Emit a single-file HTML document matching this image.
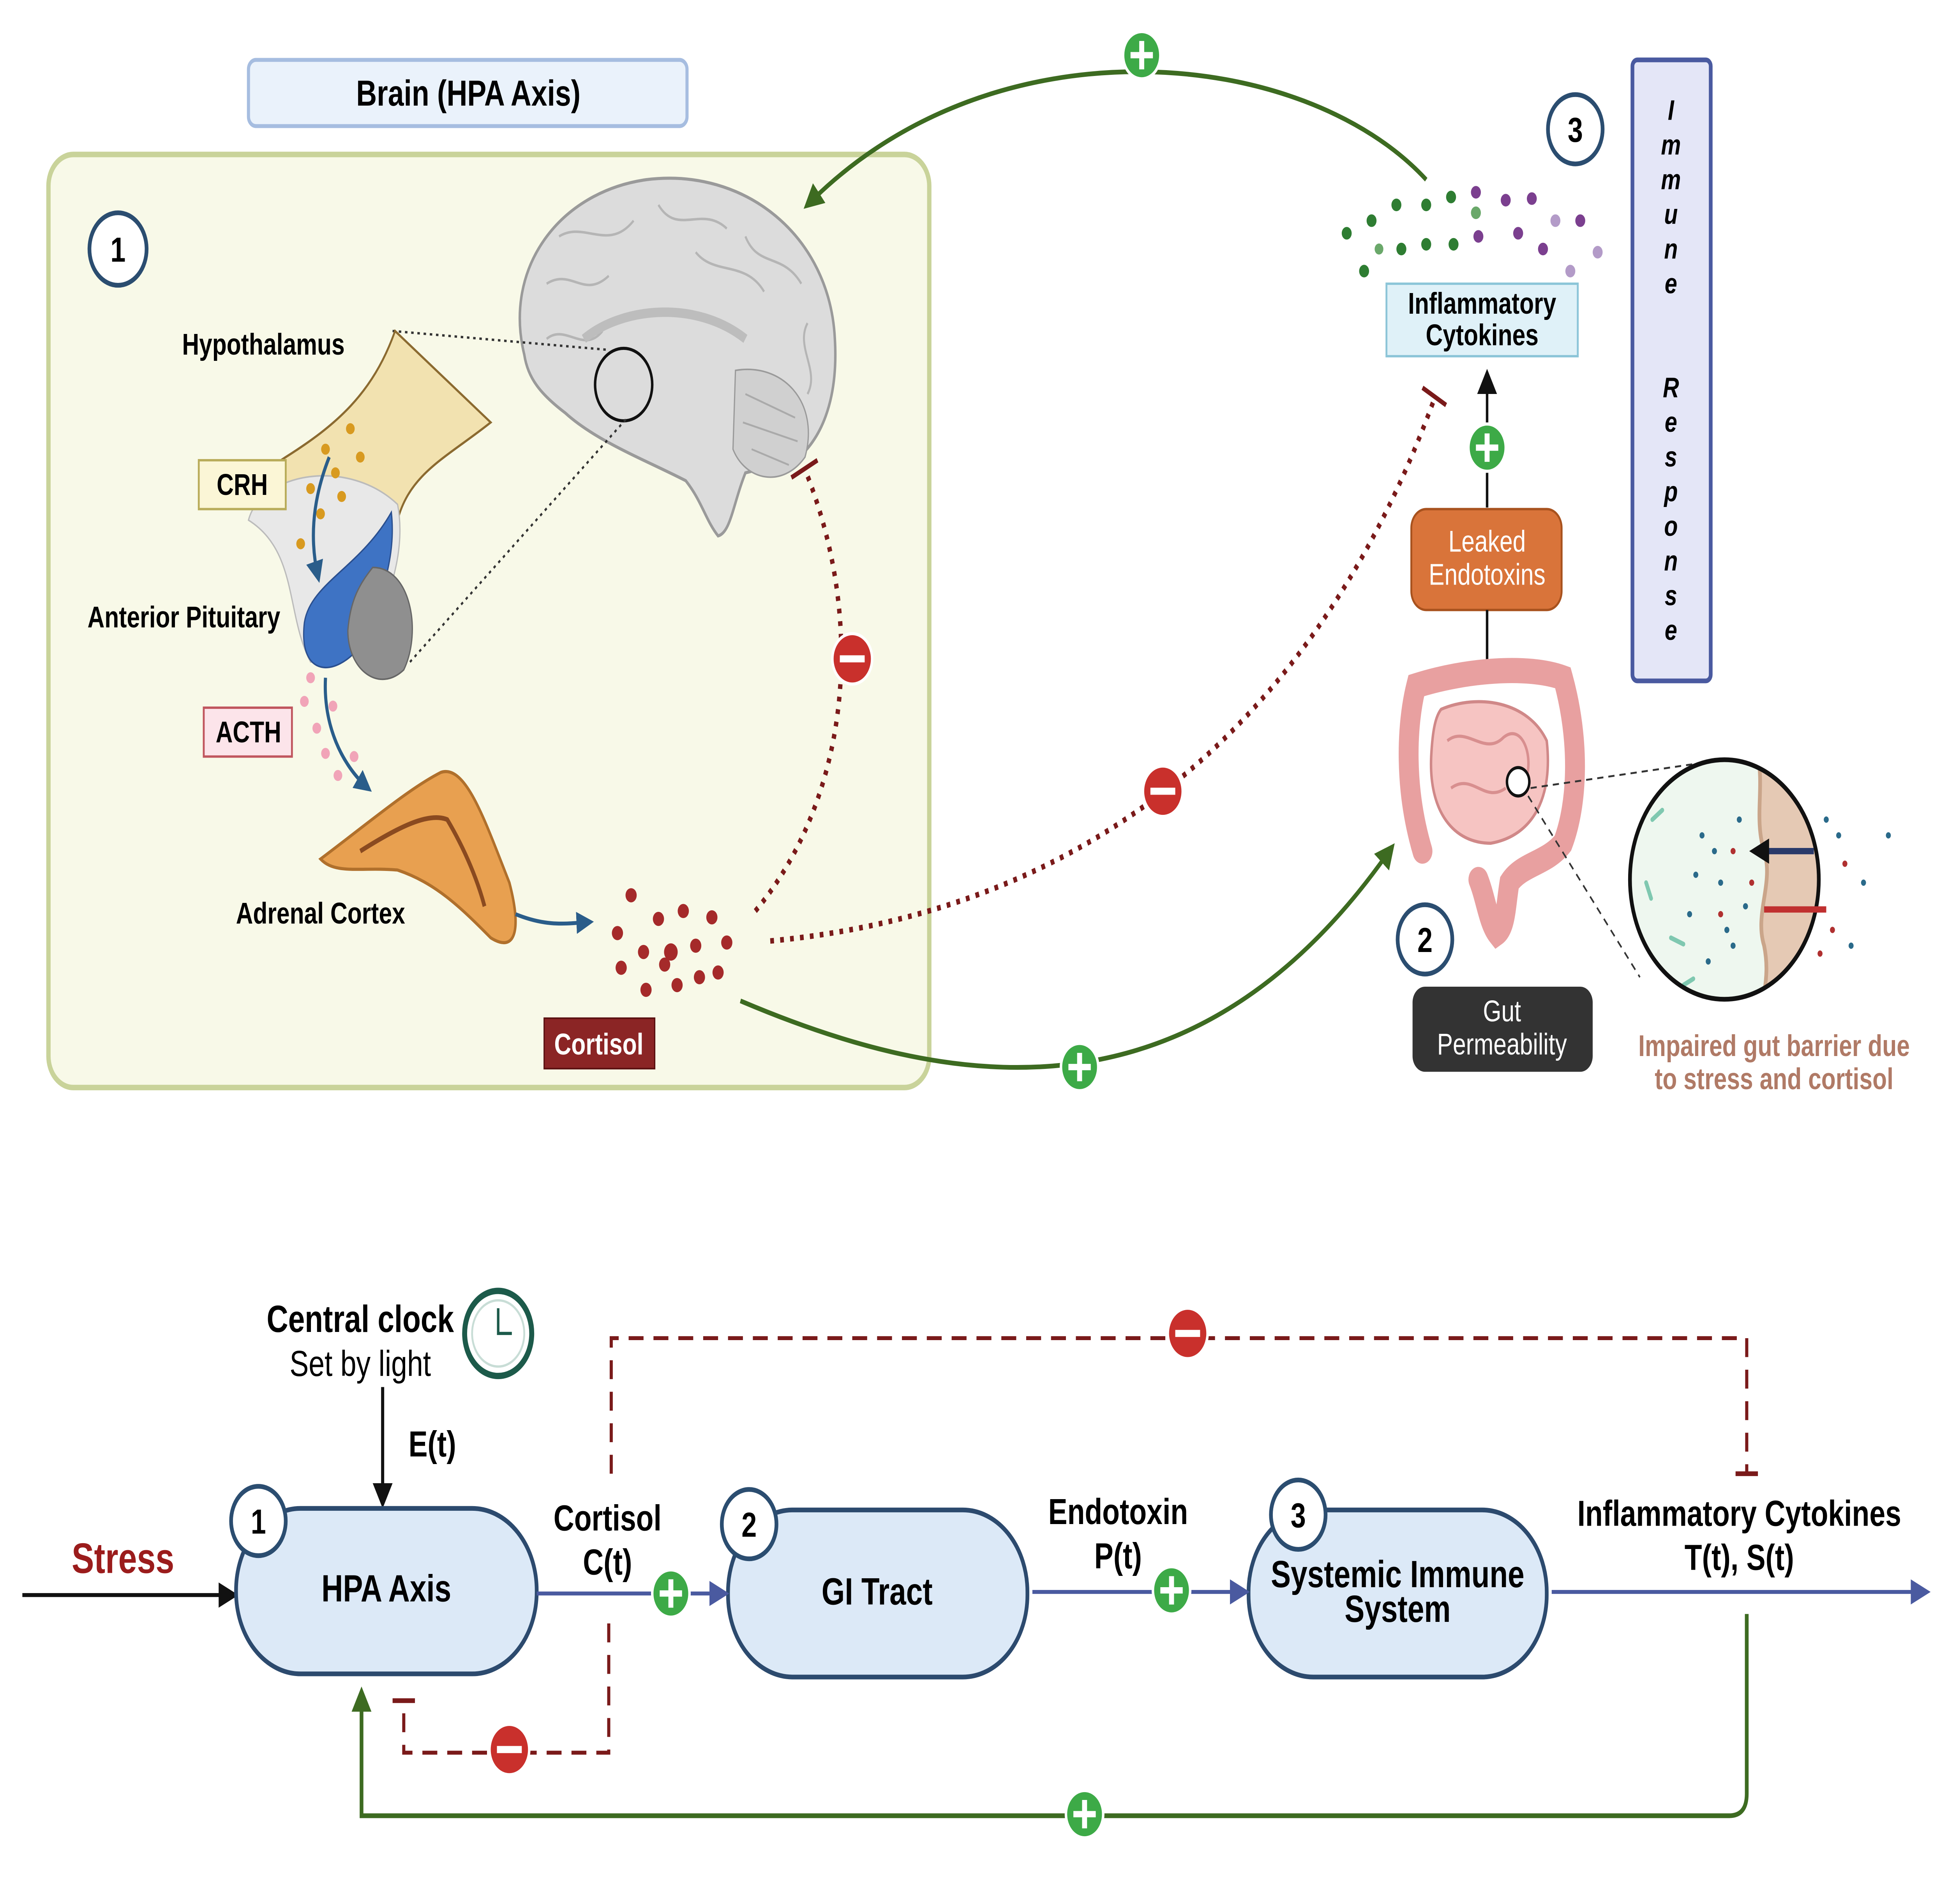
<!DOCTYPE html>
<html><head><meta charset="utf-8"><style>
html,body{margin:0;padding:0;background:#fff;overflow:hidden;width:100%;height:100%}
svg{display:block;width:100vw;height:100vh;position:absolute;left:0;top:0}
text{font-family:"Liberation Sans",Arial,sans-serif}
</style></head><body>
<svg viewBox="0 0 1568 1208" preserveAspectRatio="none" xmlns="http://www.w3.org/2000/svg">
<defs>
<marker id="agb" markerWidth="16" markerHeight="16" refX="12" refY="8" orient="auto" markerUnits="userSpaceOnUse"><path d="M0,0 L16,8 L0,16z" fill="#3d6b21"/></marker>
<marker id="ab" markerWidth="16" markerHeight="16" refX="12" refY="8" orient="auto" markerUnits="userSpaceOnUse"><path d="M0,0 L16,8 L0,16z" fill="#4a5aa0"/></marker>
<marker id="ak" markerWidth="16" markerHeight="16" refX="12" refY="8" orient="auto" markerUnits="userSpaceOnUse"><path d="M0,0 L16,8 L0,16z" fill="#111"/></marker>
<marker id="at" markerWidth="14" markerHeight="14" refX="10" refY="7" orient="auto" markerUnits="userSpaceOnUse"><path d="M0,0 L14,7 L0,14z" fill="#2a5d8a"/></marker>
<clipPath id="zc"><circle cx="1388" cy="558" r="75"/></clipPath>
<g id="plus"><circle r="15" fill="#3daa47" stroke="#fff" stroke-width="2"/><path d="M-9,0H9M0,-9V9" stroke="#fff" stroke-width="4"/></g>
<g id="minus"><circle r="16" fill="#c9302c" stroke="#fff" stroke-width="2"/><path d="M-10,0H10" stroke="#fff" stroke-width="4.5"/></g>
</defs>

<rect x="200" y="38" width="353" height="42" rx="6" fill="#eaf2fb" stroke="#a6bde0" stroke-width="2.5"/>
<text x="377" y="67" font-size="23" font-weight="bold" text-anchor="middle">Brain (HPA Axis)</text>
<rect x="39" y="98" width="709" height="592" rx="20" fill="#f8f9e8" stroke="#c9d39a" stroke-width="3.5"/>
<circle cx="95" cy="158" r="23" fill="#fff" stroke="#2b4d70" stroke-width="3"/>
<text x="95" y="166" font-size="22" font-weight="bold" text-anchor="middle">1</text>

<!-- brain -->
<path d="M422,225 C405,170 450,122 520,114 C600,106 668,150 672,215 C675,255 660,280 640,292 L600,300 C590,320 588,338 578,340 C568,330 565,318 552,305 C520,292 480,280 455,262 C435,250 425,240 422,225Z" fill="#dcdcdc" stroke="#9a9a9a" stroke-width="2"/>
<g fill="none" stroke="#b5b5b5" stroke-width="1.6">
<path d="M440,180 C460,170 470,190 490,175 M450,150 C470,140 490,160 510,140 M530,130 C545,150 565,130 585,145 M600,150 C610,170 630,160 645,180 M440,215 C455,205 470,225 485,210 M650,205 C640,220 660,235 650,250 M560,160 C575,175 600,165 615,185"/></g>
<path d="M470,215 C500,195 560,190 600,215" fill="none" stroke="#bdbdbd" stroke-width="6"/>
<path d="M592,235 C630,230 660,255 648,290 C630,310 600,305 590,285Z" fill="#d0d0d0" stroke="#9a9a9a"/>
<path d="M600,250 L640,265 M598,268 L642,280 M605,285 L635,295" stroke="#aaa" stroke-width="1.2"/>
<circle cx="502" cy="244" r="23" fill="none" stroke="#111" stroke-width="2"/>
<path d="M316,210 L490,222 M330,420 L505,265" stroke="#333" stroke-dasharray="2,3" stroke-width="1.5"/>
<path d="M318,210 L395,268 C360,290 330,300 320,330 L240,335 C200,330 190,310 230,290 C270,270 300,250 318,210Z" fill="#f2e2b0" stroke="#8b6a30" stroke-width="1.5"/>
<path d="M200,330 C210,300 280,290 320,320 C330,360 300,420 250,420 C230,390 240,350 200,330Z" fill="#e8e8e8" stroke="#bbb"/>
<path d="M315,325 C320,360 300,390 290,410 C270,430 240,430 245,395 C250,370 290,360 315,325Z" fill="#3e73c4" stroke="#2a4f8f"/>
<path d="M300,360 C330,360 340,400 325,425 C305,440 280,425 280,400 C282,380 290,370 300,360Z" fill="#8f8f8f" stroke="#666"/>
<g fill="#d89a20"><circle cx="262" cy="285" r="3.5"/><circle cx="282" cy="272" r="3.5"/><circle cx="290" cy="290" r="3.5"/><circle cx="270" cy="300" r="3.5"/><circle cx="250" cy="310" r="3.5"/><circle cx="258" cy="326" r="3.5"/><circle cx="242" cy="345" r="3.5"/><circle cx="275" cy="315" r="3.5"/></g>
<path d="M265,290 C250,320 250,345 256,366" fill="none" stroke="#2a5d8a" stroke-width="2.5" marker-end="url(#at)"/>
<g fill="#f1a4b8"><circle cx="250" cy="430" r="3.5"/><circle cx="245" cy="445" r="3.5"/><circle cx="255" cy="462" r="3.5"/><circle cx="262" cy="478" r="3.5"/><circle cx="272" cy="492" r="3.5"/><circle cx="285" cy="480" r="3.5"/><circle cx="268" cy="448" r="3.5"/></g>
<path d="M262,430 C260,460 275,485 296,500" fill="none" stroke="#2a5d8a" stroke-width="2.5" marker-end="url(#at)"/>
<path d="M258,545 C300,520 330,500 355,490 C375,485 390,520 410,560 C420,590 415,605 395,595 C370,575 350,560 320,552 C290,550 270,555 258,545Z" fill="#e8a050" stroke="#b0702c" stroke-width="2"/>
<path d="M290,540 C320,525 345,515 360,520 C375,540 385,560 390,575" fill="none" stroke="#8a4a20" stroke-width="3"/>
<path d="M415,580 C440,588 455,586 474,585" fill="none" stroke="#2a5d8a" stroke-width="2.5" marker-end="url(#at)"/>
<text x="212" y="225" font-size="19" font-weight="bold" text-anchor="middle">Hypothalamus</text>
<rect x="160" y="292" width="70" height="31" fill="#fbf6d6" stroke="#b9ac5a" stroke-width="1.5"/>
<text x="195" y="314" font-size="19" font-weight="bold" text-anchor="middle">CRH</text>
<text x="148" y="398" font-size="19" font-weight="bold" text-anchor="middle">Anterior Pituitary</text>
<rect x="164" y="449" width="71" height="31" fill="#fce4ea" stroke="#c0565e" stroke-width="1.5"/>
<text x="200" y="471" font-size="19" font-weight="bold" text-anchor="middle">ACTH</text>
<text x="258" y="586" font-size="19" font-weight="bold" text-anchor="middle">Adrenal Cortex</text>
<rect x="438" y="646" width="89" height="32" fill="#8b2525" stroke="#5a1010"/>
<text x="482" y="669" font-size="19" font-weight="bold" fill="#fff" text-anchor="middle">Cortisol</text>
<g fill="#a52a2a"><circle cx="508" cy="568" r="4.5"/><circle cx="530" cy="583" r="4.5"/><circle cx="550" cy="578" r="4.5"/><circle cx="573" cy="582" r="4.5"/><circle cx="497" cy="592" r="4.5"/><circle cx="518" cy="604" r="4.5"/><circle cx="540" cy="604" r="5.5"/><circle cx="560" cy="600" r="4.5"/><circle cx="585" cy="598" r="4.5"/><circle cx="500" cy="614" r="4.5"/><circle cx="535" cy="612" r="4.5"/><circle cx="563" cy="620" r="4.5"/><circle cx="578" cy="617" r="4.5"/><circle cx="520" cy="628" r="4.5"/><circle cx="545" cy="625" r="4.5"/></g>

<path d="M608,578 C680,510 700,400 648,298" fill="none" stroke="#7a1a1a" stroke-width="3.5" stroke-dasharray="3,5"/>
<path d="M637,303 L658,292" stroke="#7a1a1a" stroke-width="3"/>
<use href="#minus" x="686" y="418"/>
<path d="M620,597 C850,580 1050,480 1155,252" fill="none" stroke="#7a1a1a" stroke-width="3.5" stroke-dasharray="3,5"/>
<path d="M1145,246 L1164,257" stroke="#7a1a1a" stroke-width="3"/>
<use href="#minus" x="936" y="502"/>
<path d="M1148,114 C1050,30 800,10 650,130" fill="none" stroke="#3d6b21" stroke-width="3" marker-end="url(#agb)"/>
<use href="#plus" x="919" y="35"/>
<path d="M596,635 C760,690 960,720 1120,538" fill="none" stroke="#3d6b21" stroke-width="3" marker-end="url(#agb)"/>
<use href="#plus" x="869" y="677"/>

<g fill="#2e7d32"><circle cx="1084" cy="148" r="4"/><circle cx="1104" cy="140" r="4"/><circle cx="1124" cy="130" r="4"/><circle cx="1148" cy="130" r="4"/><circle cx="1168" cy="125" r="4"/><circle cx="1098" cy="172" r="4"/><circle cx="1128" cy="158" r="4"/><circle cx="1148" cy="155" r="4"/><circle cx="1170" cy="155" r="4"/></g>
<g fill="#6aa86a"><circle cx="1188" cy="135" r="4"/><circle cx="1110" cy="158" r="3.5"/></g>
<g fill="#7b3f8f"><circle cx="1188" cy="122" r="4"/><circle cx="1212" cy="127" r="4"/><circle cx="1233" cy="126" r="4"/><circle cx="1190" cy="150" r="4"/><circle cx="1222" cy="148" r="4"/><circle cx="1242" cy="158" r="4"/><circle cx="1272" cy="140" r="4"/></g>
<g fill="#b39bc8"><circle cx="1252" cy="140" r="4"/><circle cx="1286" cy="160" r="4"/><circle cx="1264" cy="172" r="4"/></g>
<rect x="1116" y="180" width="154" height="46" fill="#dff1f8" stroke="#8cc5d8" stroke-width="1.5"/>
<text x="1193" y="199" font-size="19" font-weight="bold" text-anchor="middle">Inflammatory</text>
<text x="1193" y="219" font-size="19" font-weight="bold" text-anchor="middle">Cytokines</text>
<circle cx="1268" cy="82" r="22" fill="#fff" stroke="#2b4d70" stroke-width="3"/>
<text x="1268" y="90" font-size="22" font-weight="bold" text-anchor="middle">3</text>
<rect x="1314" y="38" width="63" height="394" rx="4" fill="#e4e6f7" stroke="#4a5aa0" stroke-width="3"/>
<g font-size="18" font-weight="bold" font-style="italic" text-anchor="middle">
<text x="1345" y="76">I</text><text x="1345" y="98">m</text><text x="1345" y="120">m</text><text x="1345" y="142">u</text><text x="1345" y="164">n</text><text x="1345" y="186">e</text>
<text x="1345" y="252">R</text><text x="1345" y="274">e</text><text x="1345" y="296">s</text><text x="1345" y="318">p</text><text x="1345" y="340">o</text><text x="1345" y="362">n</text><text x="1345" y="384">s</text><text x="1345" y="406">e</text></g>
<path d="M1197,322 V238" stroke="#111" stroke-width="2" marker-end="url(#ak)"/>
<use href="#plus" x="1197" y="284"/>
<rect x="1136" y="323" width="121" height="64" rx="12" fill="#d9743a" stroke="#a8521e" stroke-width="1.5"/>
<text x="1197" y="350" font-size="19" fill="#fff" text-anchor="middle">Leaked</text>
<text x="1197" y="371" font-size="19" fill="#fff" text-anchor="middle">Endotoxins</text>
<path d="M1197,387 V432" stroke="#111" stroke-width="2"/>
<!-- gut -->
<path d="M1145,540 C1130,500 1132,460 1140,435 C1180,425 1230,422 1258,430 C1272,470 1270,510 1258,535 C1245,548 1225,548 1215,560 C1212,575 1212,588 1205,592 C1198,585 1196,570 1190,558" fill="none" stroke="#e8a0a0" stroke-width="16" stroke-linecap="round"/>
<path d="M1160,450 C1190,440 1230,445 1245,470 C1250,505 1235,530 1200,535 C1170,535 1150,515 1152,480 C1153,465 1155,455 1160,450Z" fill="#f6c4c2" stroke="#d08888" stroke-width="2"/>
<path d="M1165,470 C1180,460 1195,480 1210,468 C1225,458 1235,480 1228,495 M1168,500 C1185,490 1195,510 1212,500" fill="none" stroke="#d88f8f" stroke-width="2"/>
<circle cx="1222" cy="496" r="9" fill="#fff" stroke="#111" stroke-width="2"/>
<path d="M1232,500 L1370,484 M1230,505 L1320,620" stroke="#333" stroke-dasharray="5,4" stroke-width="1.2"/>
<circle cx="1147" cy="596" r="22" fill="#fff" stroke="#2b4d70" stroke-width="3"/>
<text x="1147" y="604" font-size="22" font-weight="bold" text-anchor="middle">2</text>
<rect x="1137" y="626" width="145" height="54" rx="10" fill="#333"/>
<text x="1209" y="648" font-size="19" fill="#fff" text-anchor="middle">Gut</text>
<text x="1209" y="669" font-size="19" fill="#fff" text-anchor="middle">Permeability</text>
<circle cx="1388" cy="558" r="76" fill="#eef7ef"/>
<g clip-path="url(#zc)">
<path d="M1415,480 C1420,500 1412,520 1420,540 C1428,560 1412,580 1420,600 C1425,620 1418,630 1420,640 L1470,640 L1470,480Z" fill="#e5c9b4"/>
<path d="M1415,480 C1420,500 1412,520 1420,540 C1428,560 1412,580 1420,600 C1425,620 1418,630 1420,640" fill="none" stroke="#caa58a" stroke-width="3"/>
<g fill="#2a6a8a"><circle cx="1370" cy="530" r="2"/><circle cx="1385" cy="560" r="2"/><circle cx="1360" cy="580" r="2"/><circle cx="1395" cy="600" r="2"/><circle cx="1375" cy="610" r="2"/><circle cx="1400" cy="520" r="2"/><circle cx="1380" cy="540" r="2"/><circle cx="1405" cy="575" r="2"/><circle cx="1365" cy="555" r="2"/><circle cx="1390" cy="590" r="2"/></g>
<g fill="#b03030"><circle cx="1395" cy="540" r="2"/><circle cx="1410" cy="560" r="2"/><circle cx="1385" cy="580" r="2"/></g>
<g fill="none" stroke="#7fc8b0" stroke-width="3" stroke-linecap="round"><path d="M1330,520 l8,-6 M1345,595 l10,4 M1325,560 l4,10 M1355,625 l8,-4"/></g>
</g>
<circle cx="1388" cy="558" r="76" fill="none" stroke="#111" stroke-width="3"/>
<g fill="#2a6a8a"><circle cx="1480" cy="530" r="2"/><circle cx="1500" cy="560" r="2"/><circle cx="1490" cy="600" r="2"/><circle cx="1520" cy="530" r="2"/><circle cx="1470" cy="520" r="2"/></g>
<g fill="#b03030"><circle cx="1485" cy="548" r="2"/><circle cx="1475" cy="590" r="2"/><circle cx="1465" cy="605" r="2"/></g>
<path d="M1460,540 H1412" stroke="#2a3a6a" stroke-width="4" marker-end="url(#ak)"/>
<path d="M1420,577 H1470" stroke="#c03030" stroke-width="4"/>
<text x="1428" y="670" font-size="19" font-weight="bold" fill="#b07a66" text-anchor="middle">Impaired gut barrier due</text>
<text x="1428" y="691" font-size="19" font-weight="bold" fill="#b07a66" text-anchor="middle">to stress and cortisol</text>

<text x="290" y="845" font-size="24" font-weight="bold" text-anchor="middle">Central clock</text>
<text x="290" y="873" font-size="23" text-anchor="middle">Set by light</text>
<circle cx="401" cy="846" r="27" fill="#fff" stroke="#1c5a4a" stroke-width="4"/>
<circle cx="401" cy="846" r="21" fill="#fff" stroke="#c8ddd6" stroke-width="1.5"/>
<path d="M401,830 V846 H412" stroke="#1c5a4a" stroke-width="2" fill="none"/>
<path d="M308,880 V953" stroke="#111" stroke-width="2.5" marker-end="url(#ak)"/>
<text x="348" y="924" font-size="23" font-weight="bold" text-anchor="middle">E(t)</text>
<text x="99" y="998" font-size="27" font-weight="bold" fill="#9b1c1c" text-anchor="middle">Stress</text>
<path d="M18,1012 H188" stroke="#111" stroke-width="2.5" marker-end="url(#ak)"/>

<rect x="190" y="957" width="242" height="105" rx="52" fill="#dce9f7" stroke="#2c4a6e" stroke-width="3"/>
<text x="311" y="1016" font-size="24" font-weight="bold" text-anchor="middle">HPA Axis</text>
<circle cx="208" cy="965" r="22" fill="#fff" stroke="#2b4d70" stroke-width="3"/>
<text x="208" y="973" font-size="22" font-weight="bold" text-anchor="middle">1</text>

<rect x="586" y="958" width="241" height="106" rx="52" fill="#dce9f7" stroke="#2c4a6e" stroke-width="3"/>
<text x="706" y="1018" font-size="24" font-weight="bold" text-anchor="middle">GI Tract</text>
<circle cx="603" cy="967" r="22" fill="#fff" stroke="#2b4d70" stroke-width="3"/>
<text x="603" y="975" font-size="22" font-weight="bold" text-anchor="middle">2</text>

<rect x="1005" y="958" width="240" height="106" rx="52" fill="#dce9f7" stroke="#2c4a6e" stroke-width="3"/>
<text x="1125" y="1007" font-size="24" font-weight="bold" text-anchor="middle">Systemic Immune</text>
<text x="1125" y="1029" font-size="24" font-weight="bold" text-anchor="middle">System</text>
<circle cx="1045" cy="961" r="22" fill="#fff" stroke="#2b4d70" stroke-width="3"/>
<text x="1045" y="969" font-size="22" font-weight="bold" text-anchor="middle">3</text>

<text x="489" y="971" font-size="23" font-weight="bold" text-anchor="middle">Cortisol</text>
<text x="489" y="999" font-size="23" font-weight="bold" text-anchor="middle">C(t)</text>
<path d="M432,1011 H583" stroke="#4a5aa0" stroke-width="2.5" marker-end="url(#ab)"/>
<use href="#plus" x="540" y="1011"/>
<text x="900" y="967" font-size="23" font-weight="bold" text-anchor="middle">Endotoxin</text>
<text x="900" y="995" font-size="23" font-weight="bold" text-anchor="middle">P(t)</text>
<path d="M831,1010 H1002" stroke="#4a5aa0" stroke-width="2.5" marker-end="url(#ab)"/>
<use href="#plus" x="943" y="1009"/>
<text x="1400" y="968" font-size="23" font-weight="bold" text-anchor="middle">Inflammatory Cytokines</text>
<text x="1400" y="996" font-size="23" font-weight="bold" text-anchor="middle">T(t), S(t)</text>
<path d="M1249,1010 H1550" stroke="#4a5aa0" stroke-width="2.5" marker-end="url(#ab)"/>

<path d="M492,935 V849 H1406 V935" fill="none" stroke="#7a1a1a" stroke-width="2.5" stroke-dasharray="12,8"/>
<path d="M1397,935 H1415" stroke="#7a1a1a" stroke-width="3"/>
<use href="#minus" x="956" y="846"/>
<path d="M490,1030 V1112 H325 V1080" fill="none" stroke="#7a1a1a" stroke-width="2.5" stroke-dasharray="12,8"/>
<path d="M316,1079 H334" stroke="#7a1a1a" stroke-width="3"/>
<use href="#minus" x="410" y="1110"/>
<path d="M1406,1024 V1138 Q1406,1152 1392,1152 H291 V1074" fill="none" stroke="#3d6b21" stroke-width="3" marker-end="url(#agb)"/>
<use href="#plus" x="873" y="1151"/>
</svg>
</body></html>
